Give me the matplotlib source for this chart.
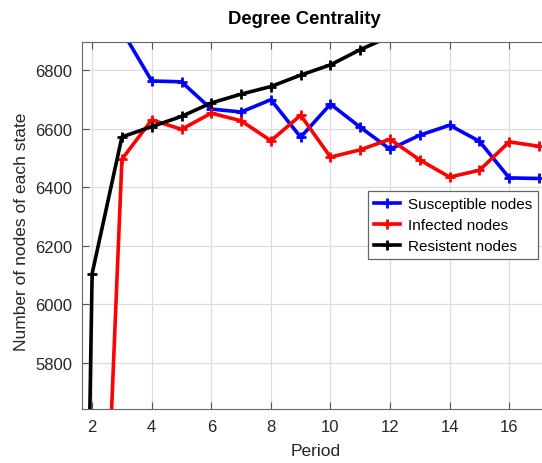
import matplotlib
matplotlib.use('Agg')
import matplotlib.pyplot as plt

plt.rcParams['font.family'] = ['Liberation Sans', 'DejaVu Sans']

period = [1, 2, 3, 4, 5, 6, 7, 8, 9, 10, 11, 12, 13, 14, 15, 16, 17]
susceptible = [19000, 9865, 6935, 6763, 6760, 6667, 6657, 6699, 6571, 6684,
               6605, 6530, 6578, 6612, 6557, 6432, 6430]
infected = [1000, 4030, 6496, 6630, 6598, 6653, 6627, 6559, 6646, 6503,
            6528, 6564, 6493, 6435, 6458, 6555, 6540]
resistent = [0, 6105, 6572, 6607, 6642, 6688, 6718, 6744, 6783, 6818,
             6870, 6915, 6950, 6980, 7010, 7040, 7070]
labels = ['Susceptible nodes', 'Infected nodes', 'Resistent nodes']
colors = ['#0000ff', '#ff0000', '#000000']

fig = plt.figure(figsize=(5.42, 4.64), dpi=100)
ax = fig.add_axes([82/542, 1 - 410/464, 1 - 82/542, (410 - 43)/464])

for ys, lab, col in zip([susceptible, infected, resistent], labels, colors):
    ax.plot(period, ys, color=col, lw=2.6, marker='+', ms=7, mew=2, label=lab)

ax.set_xlim(1.66, 17.1)
ax.set_ylim(5643, 6896)
ax.set_xticks([2, 4, 6, 8, 10, 12, 14, 16])
ax.set_yticks([5800, 6000, 6200, 6400, 6600, 6800])
ax.grid(True, color='#dddddd', lw=0.9)
ax.set_axisbelow(True)
ax.tick_params(direction='in', length=5, labelsize=12, colors='#555555',
               labelcolor='#262626', top=True, pad=7)
for s in ['left', 'bottom', 'top']:
    ax.spines[s].set_color('#666666')
ax.spines['right'].set_visible(False)

fig.text(316/542, 1 - 452/464, 'Period', ha='center', va='center',
         fontsize=12.5, color='#262626')
fig.text(22/542, 1 - 232/464, 'Number of nodes of each state', ha='center',
         va='center', rotation=90, fontsize=12.5, color='#262626')
fig.text(304/542, 1 - 19/464, 'Degree Centrality', ha='center', va='center',
         fontsize=13.3, fontweight='bold')

leg = ax.legend(loc='upper left', bbox_to_anchor=((368 - 82)/460, 1 - (192 - 43)/367),
                fontsize=11, fancybox=False, framealpha=1, edgecolor='#666666',
                borderpad=0.4, labelspacing=0.45, handlelength=1.7,
                handletextpad=0.5, borderaxespad=0)
leg.get_frame().set_linewidth(0.9)

fig.savefig('out.png', dpi=100)
